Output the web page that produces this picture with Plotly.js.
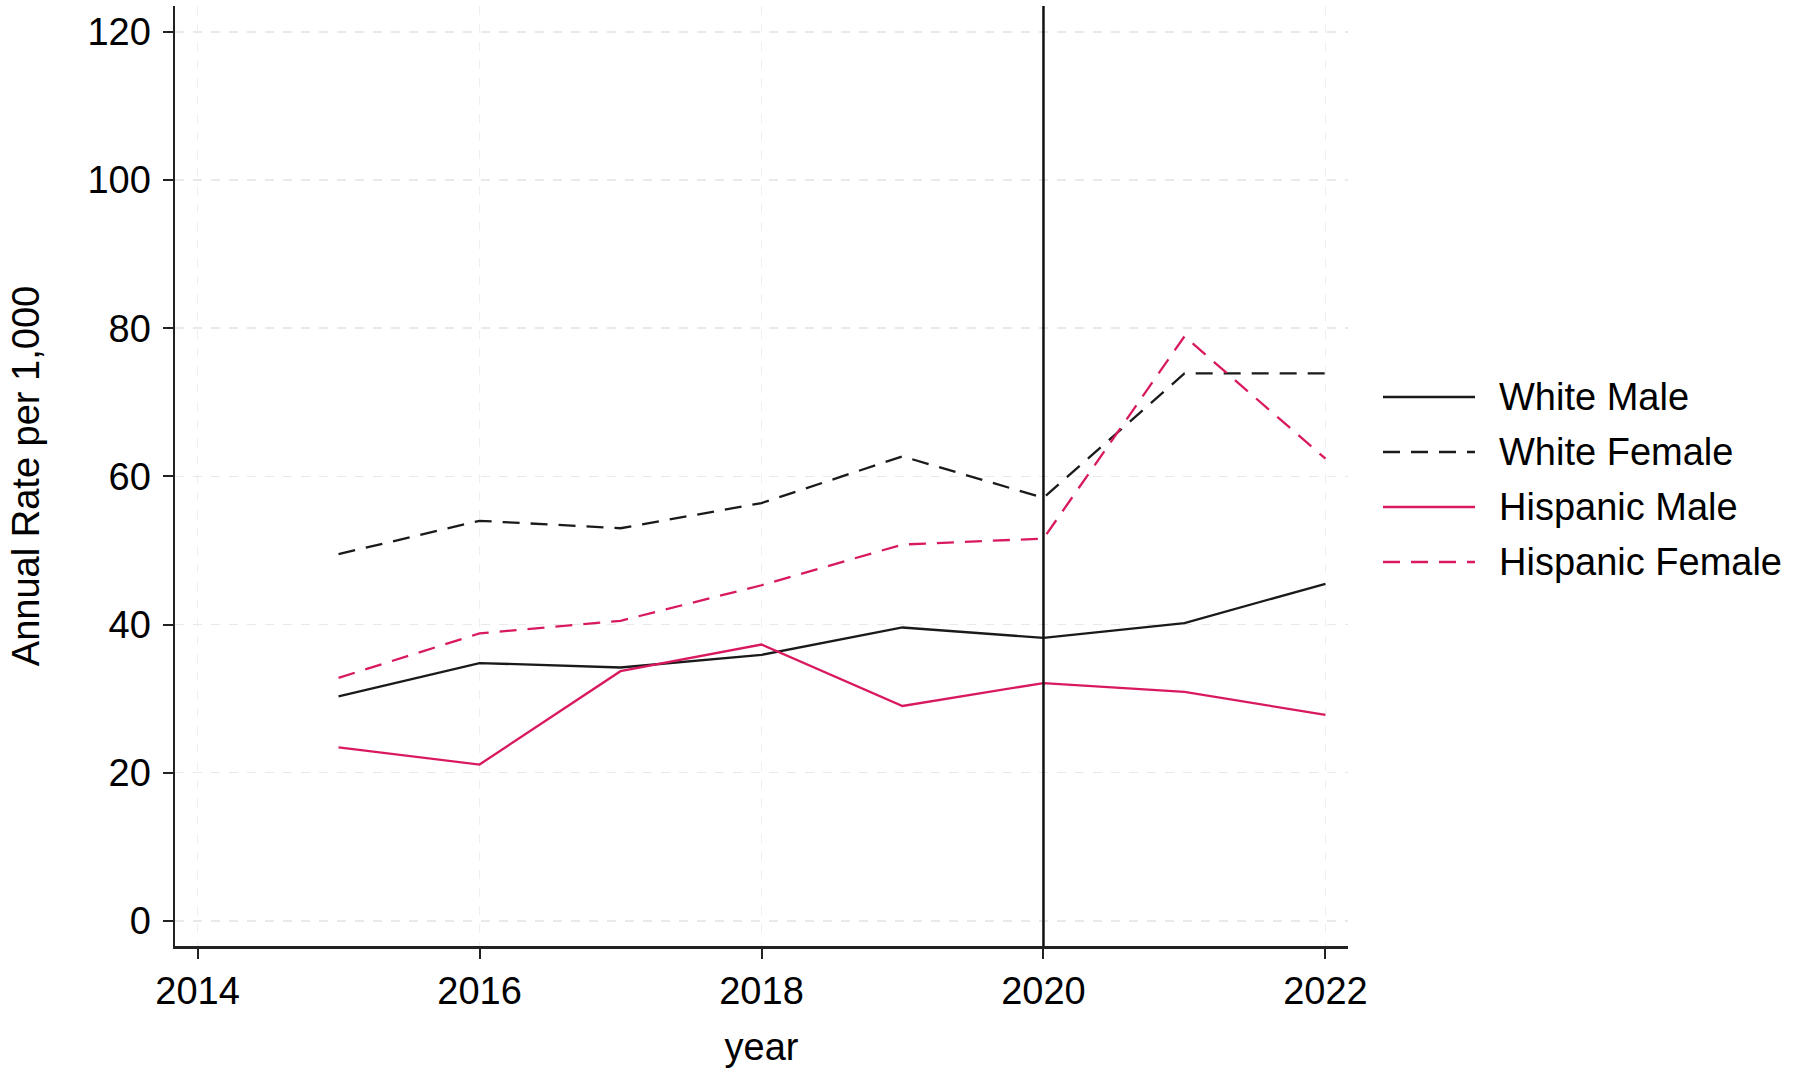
<!DOCTYPE html>
<html>
<head>
<meta charset="utf-8">
<script src="https://cdn.plot.ly/plotly-3.0.1.min.js"></script>
<style>
  html, body { margin: 0; padding: 0; background: #ffffff; }
  #chart { width: 1802px; height: 1076px; }
</style>
</head>
<body>
<div id="chart"></div>
<script>
// ---- data ----
const years = [2015, 2016, 2017, 2018, 2019, 2020, 2021, 2022];
const whiteMale      = [30.3, 34.8, 34.2, 35.9, 39.6, 38.2, 40.2, 45.5];
const whiteFemale    = [49.5, 54.0, 53.0, 56.4, 62.7, 57.1, 73.9, 73.9];
const hispanicMale   = [23.4, 21.1, 33.7, 37.3, 29.0, 32.1, 30.9, 27.8];
const hispanicFemale = [32.8, 38.8, 40.5, 45.3, 50.8, 51.6, 78.9, 62.4];
const seriesNames = ["White Male", "White Female", "Hispanic Male", "Hispanic Female"];
const xTicks = [2014, 2016, 2018, 2020, 2022];
const yTicks = [0, 20, 40, 60, 80, 100, 120];
const markerYear = 2020;

const BLACK = "#1a1a1a";
const PINK = "#d9195f";
const FONT = "Liberation Sans, Arial, Helvetica, sans-serif";
const DASH = "17px,11px";

const styles = [
  { color: BLACK, dash: "solid" },
  { color: BLACK, dash: DASH },
  { color: PINK, dash: "solid" },
  { color: PINK, dash: DASH }
];
const seriesValues = [whiteMale, whiteFemale, hispanicMale, hispanicFemale];

const data = seriesValues.map((y, i) => ({
  x: years, y: y, name: seriesNames[i], type: "scatter", mode: "lines",
  line: { color: styles[i].color, width: 2.3, dash: styles[i].dash },
  showlegend: false
}));

// plot-area geometry (pixels) used to place the hand-drawn legend
const W = 1802, H = 1076;
const M = { l: 175, r: 454, t: 6, b: 130 };
const pw = W - M.l - M.r, ph = H - M.t - M.b;
const px2x = p => (p - M.l) / pw;
const py2y = p => (H - M.b - p) / ph;
const legendRowY = [397, 452, 507, 562];
const legLineX0 = 1383, legLineX1 = 1475, legTextX = 1497;

const shapes = [{
  type: "line", xref: "x", yref: "paper",
  x0: markerYear, x1: markerYear, y0: 0, y1: 1,
  line: { color: "#111", width: 2.5 }
}];
const annotations = [];
seriesNames.forEach((name, i) => {
  shapes.push({
    type: "line", xref: "paper", yref: "paper",
    x0: px2x(legLineX0), x1: px2x(legLineX1),
    y0: py2y(legendRowY[i]), y1: py2y(legendRowY[i]),
    line: { color: styles[i].color, width: 2.3, dash: styles[i].dash }
  });
  annotations.push({
    xref: "paper", yref: "paper", x: px2x(legTextX), y: py2y(legendRowY[i]),
    xanchor: "left", yanchor: "middle", showarrow: false, text: name,
    font: { family: FONT, size: 38, color: "#000" }
  });
});

const layout = {
  width: W, height: H,
  paper_bgcolor: "#ffffff", plot_bgcolor: "#ffffff",
  font: { family: FONT, size: 38, color: "#000000" },
  margin: M,
  showlegend: false,
  xaxis: {
    range: [2013.84, 2022.16],
    tickvals: xTicks, ticktext: xTicks.map(String),
    ticks: "outside", ticklen: 10, tickwidth: 2, tickcolor: "#222",
    showline: true, linecolor: "#222", linewidth: 2.5,
    showgrid: true, gridcolor: "#efefef", gridwidth: 1.5, griddash: "dash",
    zeroline: false,
    tickfont: { family: FONT, size: 38, color: "#000" },
    title: { text: "year", font: { family: FONT, size: 38, color: "#000" }, standoff: 23 }
  },
  yaxis: {
    range: [-3.4, 123.5],
    tickvals: yTicks, ticktext: yTicks.map(String),
    ticks: "outside", ticklen: 10, tickwidth: 2, tickcolor: "#222",
    ticklabelstandoff: 4,
    showline: true, linecolor: "#222", linewidth: 2.5,
    showgrid: true, gridcolor: "#e9e9e9", gridwidth: 1.5, griddash: "dash",
    zeroline: false,
    tickfont: { family: FONT, size: 38, color: "#000" },
    title: { text: "Annual Rate per 1,000", font: { family: FONT, size: 38, color: "#000" }, standoff: 36 }
  },
  shapes: shapes,
  annotations: annotations
};

Plotly.newPlot("chart", data, layout, { displayModeBar: false, staticPlot: true });
</script>
</body>
</html>
